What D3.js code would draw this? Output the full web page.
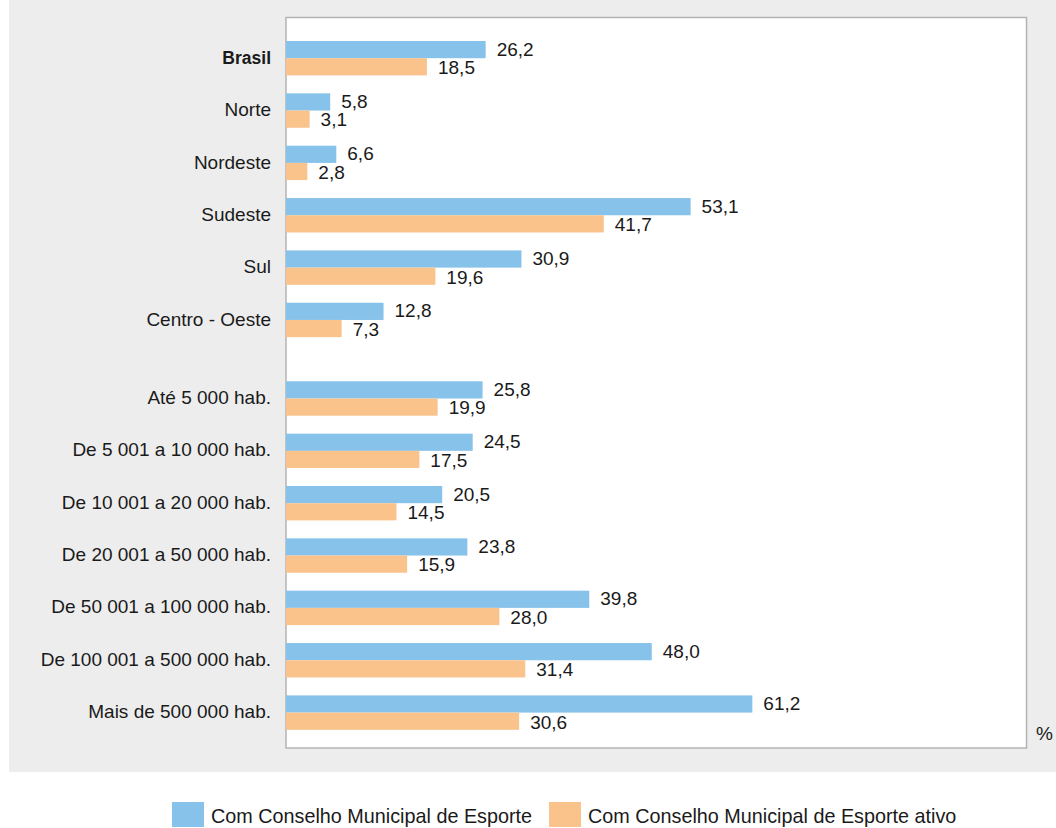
<!DOCTYPE html>
<html>
<head>
<meta charset="utf-8">
<script src="https://cdn.jsdelivr.net/npm/d3@7"></script>
<style>
  html, body { margin: 0; padding: 0; background: #ffffff; }
  svg { display: block; }
  text { font-family: "Liberation Sans", Arial, sans-serif; fill: #1a1a1a; }
</style>
</head>
<body>
<svg id="chart" width="1056" height="828"></svg>
<script>
// Municípios com Conselho Municipal de Esporte, por região e classe de tamanho da população (%)
const categories = [
  "Brasil", "Norte", "Nordeste", "Sudeste", "Sul", "Centro - Oeste",
  "Até 5 000 hab.", "De 5 001 a 10 000 hab.", "De 10 001 a 20 000 hab.",
  "De 20 001 a 50 000 hab.", "De 50 001 a 100 000 hab.",
  "De 100 001 a 500 000 hab.", "Mais de 500 000 hab."
];
const comConselho = [26.2, 5.8, 6.6, 53.1, 30.9, 12.8, 25.8, 24.5, 20.5, 23.8, 39.8, 48.0, 61.2];
const comConselhoAtivo = [18.5, 3.1, 2.8, 41.7, 19.6, 7.3, 19.9, 17.5, 14.5, 15.9, 28.0, 31.4, 30.6];
const seriesNames = ["Com Conselho Municipal de Esporte", "Com Conselho Municipal de Esporte ativo"];
const regionCount = 6; // first six rows: Brasil and the grandes regiões

const colors = ["#86c2ea", "#f9c38b"];

const svg = d3.select("#chart");

const locale = d3.formatLocale({ decimal: ",", thousands: " ", grouping: [3], currency: ["R$", ""] });
const fmt = locale.format(".1f");

// background panel and plot frame
svg.append("rect").attr("x", 9).attr("y", 0).attr("width", 1047).attr("height", 772).attr("fill", "#ededed");

const plot = { left: 286, top: 17.5, right: 1026.5, bottom: 748 };
svg.append("rect")
  .attr("x", plot.left).attr("y", plot.top)
  .attr("width", plot.right - plot.left).attr("height", plot.bottom - plot.top)
  .attr("fill", "#ffffff").attr("stroke", "#b4b4b4").attr("stroke-width", 1.5);

// row slots: a half-row gap separates regions from population classes
const slot = categories.map((c, i) => i + (i >= regionCount ? 0.5 : 0));
const y = d3.scaleLinear().domain([0, 12.5]).range([58.2, 712.6]);
const x = d3.scaleLinear().domain([0, 100]).range([plot.left, plot.left + 762]);
const barH = 17.2;

const rows = categories.map((c, i) => ({ name: c, s: slot[i], vals: [comConselho[i], comConselhoAtivo[i]] }));

const g = svg.append("g");

rows.forEach((r, i) => {
  const cy = y(r.s);
  r.vals.forEach((v, k) => {
    const top = k === 0 ? cy - barH : cy;
    g.append("rect")
      .attr("x", x(0)).attr("y", top)
      .attr("width", x(v) - x(0)).attr("height", barH)
      .attr("fill", colors[k]);
    g.append("text")
      .attr("x", x(v) + 11)
      .attr("y", k === 0 ? cy - barH / 2 + 6 : cy + barH / 2 + 7.3)
      .attr("font-size", 19)
      .text(fmt(v));
  });
  g.append("text")
    .attr("x", 271).attr("y", cy + 5.6)
    .attr("text-anchor", "end")
    .attr("font-size", i === 0 ? 17.5 : 19)
    .attr("font-weight", i === 0 ? "bold" : "normal")
    .text(r.name);
});

svg.append("text").attr("x", 1036).attr("y", 740).attr("font-size", 19).text("%");

// legend
const legend = [{ x: 172, tx: 211 }, { x: 549, tx: 588 }];
legend.forEach((l, k) => {
  svg.append("rect").attr("x", l.x).attr("y", 802).attr("width", 32).attr("height", 25).attr("fill", colors[k]);
  svg.append("text").attr("x", l.tx).attr("y", 823).attr("font-size", 19.8).text(seriesNames[k]);
});
</script>
</body>
</html>
